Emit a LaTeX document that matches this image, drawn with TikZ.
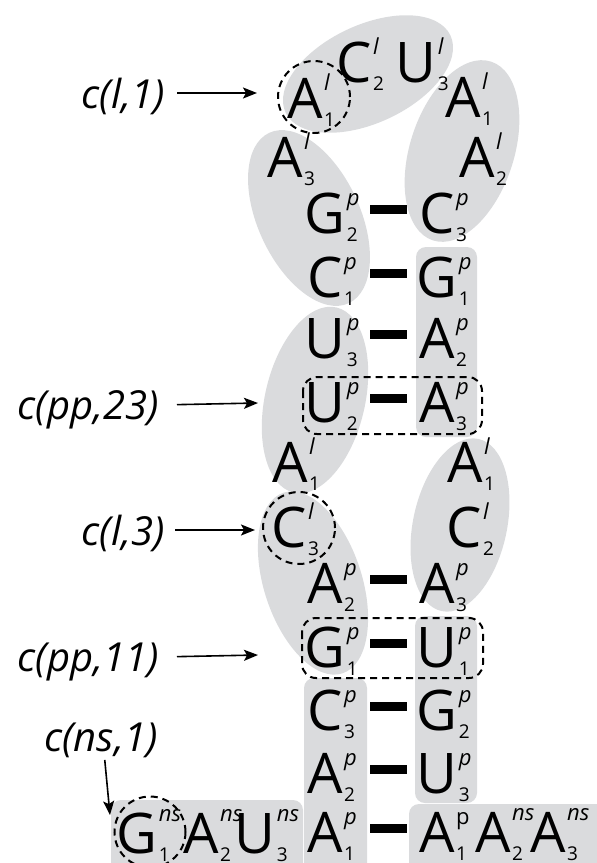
\documentclass[tikz,border=0pt]{standalone}
\usepackage{fontspec}
\setmainfont{Open Sans}
\usepackage{xcolor}
\usepackage{tikz}
\usetikzlibrary{arrows.meta}
\definecolor{blobgray}{RGB}{218,219,221}
\newcommand{\supf}{\fontsize{22}{22}\selectfont\itshape}
\newcommand{\subf}{\fontsize{19}{19}\selectfont}
\newcommand{\nt}[4][28pt]{#2\rlap{\kern1.5pt\raisebox{#1}{\supf #3}}\rlap{\kern1.5pt\raisebox{-8pt}{\subf #4}}}

\begin{document}
\begin{tikzpicture}[x=1pt,y=-1pt,
  nuc/.style={inner sep=0pt,anchor=base,font=\fontsize{56}{56}\selectfont},
  tag/.style={inner sep=0pt,text depth=0pt,anchor=east,font=\fontsize{40}{40}\selectfont\itshape},
  ring/.style={draw,line width=2pt,dash pattern={on 7pt off 5pt}},
  bond/.style={line width=9pt},
  pointer/.style={line width=1.6pt,-{Stealth[length=14pt,width=11pt,inset=3pt]}}]
  \clip (0,0) rectangle (597,863);
  \fill[blobgray, rotate around={25:(368,74)}] (368,74) ellipse [x radius=91pt, y radius=49pt];
  \fill[blobgray, rotate around={25:(309,218)}] (309,218) ellipse [x radius=51pt, y radius=94pt];
  \fill[blobgray, rotate around={-18:(462,151)}] (462,151) ellipse [x radius=52pt, y radius=94pt];
  \fill[blobgray, rotate around={-13:(315,400)}] (315,400) ellipse [x radius=50pt, y radius=95pt];
  \fill[blobgray, rotate around={-12:(460,525)}] (460,525) ellipse [x radius=47pt, y radius=88pt];
  \fill[blobgray, rotate around={18:(313,583)}] (313,583) ellipse [x radius=49pt, y radius=95pt];
  \fill[blobgray, rounded corners=10pt] (416,247) rectangle (477,437);
  \fill[blobgray, rounded corners=10pt] (415,616) rectangle (477,803);
  \fill[blobgray, rounded corners=10pt] (304,678) rectangle (367,880);
  \fill[blobgray, rounded corners=10pt] (111,800) rectangle (303,880);
  \fill[blobgray, rounded corners=10pt] (409,804) rectangle (620,880);

  \node[ring, circle, inner sep=0pt, minimum size=72pt] (o1) at (314,97) {};
  \node[ring, circle, inner sep=0pt, minimum size=72pt] (o3) at (299,528) {};
  \node[ring, circle, inner sep=0pt, minimum size=71pt] (on) at (150,832) {};
  \draw[ring, rounded corners=14pt] (303,377) rectangle (482,434);
  \draw[ring, rounded corners=14pt] (302,618) rectangle (483,678);

  \node[nuc] (hA1) at (305,118) {\nt{A}{l}{1}};
  \node[nuc] (hC2) at (354,82) {\nt{C}{l}{2}};
  \node[nuc] (hU3) at (416,82) {\nt{U}{l}{3}};
  \node[nuc] (hA3) at (285,177) {\nt{A}{l}{3}};
  \node[nuc] (hR1) at (463,117) {\nt{A}{l}{1}};
  \node[nuc] (hR2) at (477,177) {\nt{A}{l}{2}};

  \node[nuc] (Lg2) at (325,233) {\nt{G}{p}{2}};
  \node[nuc] (Lc1) at (325,297) {\nt{C}{p}{1}};
  \node[nuc] (Lu3) at (325,358) {\nt{U}{p}{3}};
  \node[nuc] (Lu2) at (325,422) {\nt{U}{p}{2}};
  \node[nuc] (La2) at (325,603) {\nt{A}{p}{2}};
  \node[nuc] (Lg1) at (325,667) {\nt{G}{p}{1}};
  \node[nuc] (Lc3) at (325,730) {\nt{C}{p}{3}};
  \node[nuc] (Lb2) at (325,793) {\nt{A}{p}{2}};
  \node[nuc] (La1) at (325,852) {\nt{A}{p}{1}};

  \node[nuc] (Rc3) at (437,233) {\nt{C}{p}{3}};
  \node[nuc] (Rg1) at (437,297) {\nt{G}{p}{1}};
  \node[nuc] (Ra2) at (437,358) {\nt{A}{p}{2}};
  \node[nuc] (Ra3) at (437,422) {\nt{A}{p}{3}};
  \node[nuc] (Rb3) at (437,603) {\nt{A}{p}{3}};
  \node[nuc] (Ru1) at (437,667) {\nt{U}{p}{1}};
  \node[nuc] (Rg2) at (437,730) {\nt{G}{p}{2}};
  \node[nuc] (Ru3) at (437,793) {\nt{U}{p}{3}};
  \node[nuc] (Ra1) at (437,852) {\nt{A}{\upshape p}{1}};

  \node[nuc] (iA1) at (290,482) {\nt{A}{l}{1}};
  \node[nuc] (iC3) at (289,547) {\nt{C}{l}{3}};
  \node[nuc] (jA1) at (465,482) {\nt{A}{l}{1}};
  \node[nuc] (jC2) at (464,547) {\nt{C}{l}{2}};

  \node[nuc] (nG1) at (137,853) {\nt[32pt]{G}{ns}{1}};
  \node[nuc] (nA2) at (201,853) {\nt[32pt]{A}{ns}{2}};
  \node[nuc] (nU3) at (255,853) {\nt[32pt]{U}{ns}{3}};
  \node[nuc] (mA2) at (493,852) {\nt[32pt]{A}{ns}{2}};
  \node[nuc] (mA3) at (548,852) {\nt[32pt]{A}{ns}{3}};

  \foreach \a/\b in {Lg2/Rc3,Lc1/Rg1,Lu3/Ra2,Lu2/Ra3,La2/Rb3,Lg1/Ru1,Lc3/Rg2,Lb2/Ru3,La1/Ra1}
    \draw[bond] ([xshift=45pt,yshift=24pt]\a.base) -- ([xshift=-30pt,yshift=24pt]\b.base);

  \coordinate (e1) at (257,93);
  \coordinate (e23) at (258,403);
  \coordinate (e3) at (255,530);
  \coordinate (e11) at (258,655);
  \coordinate (ens) at (110,815);
  \node[tag] (cl1) at (165,93) {c(l,1)};
  \node[tag] (cpp23) at (159,405) {c(pp,23)};
  \node[tag] (cl3) at (165,530) {c(l,3)};
  \node[tag] (cpp11) at (159,657) {c(pp,11)};
  \node[tag, anchor=south] (cns1) at (101,752) {c(ns,1)};
  \draw[pointer, shorten <=12pt] (cl1.east) -- (e1);
  \draw[pointer, shorten <=18pt] (cpp23.east) -- (e23);
  \draw[pointer, shorten <=10pt] (cl3.east) -- (e3);
  \draw[pointer, shorten <=18pt] (cpp11.east) -- (e11);
  \draw[pointer, shorten <=8pt] ([xshift=3pt]cns1.south) -- (ens);
\end{tikzpicture}
\end{document}
